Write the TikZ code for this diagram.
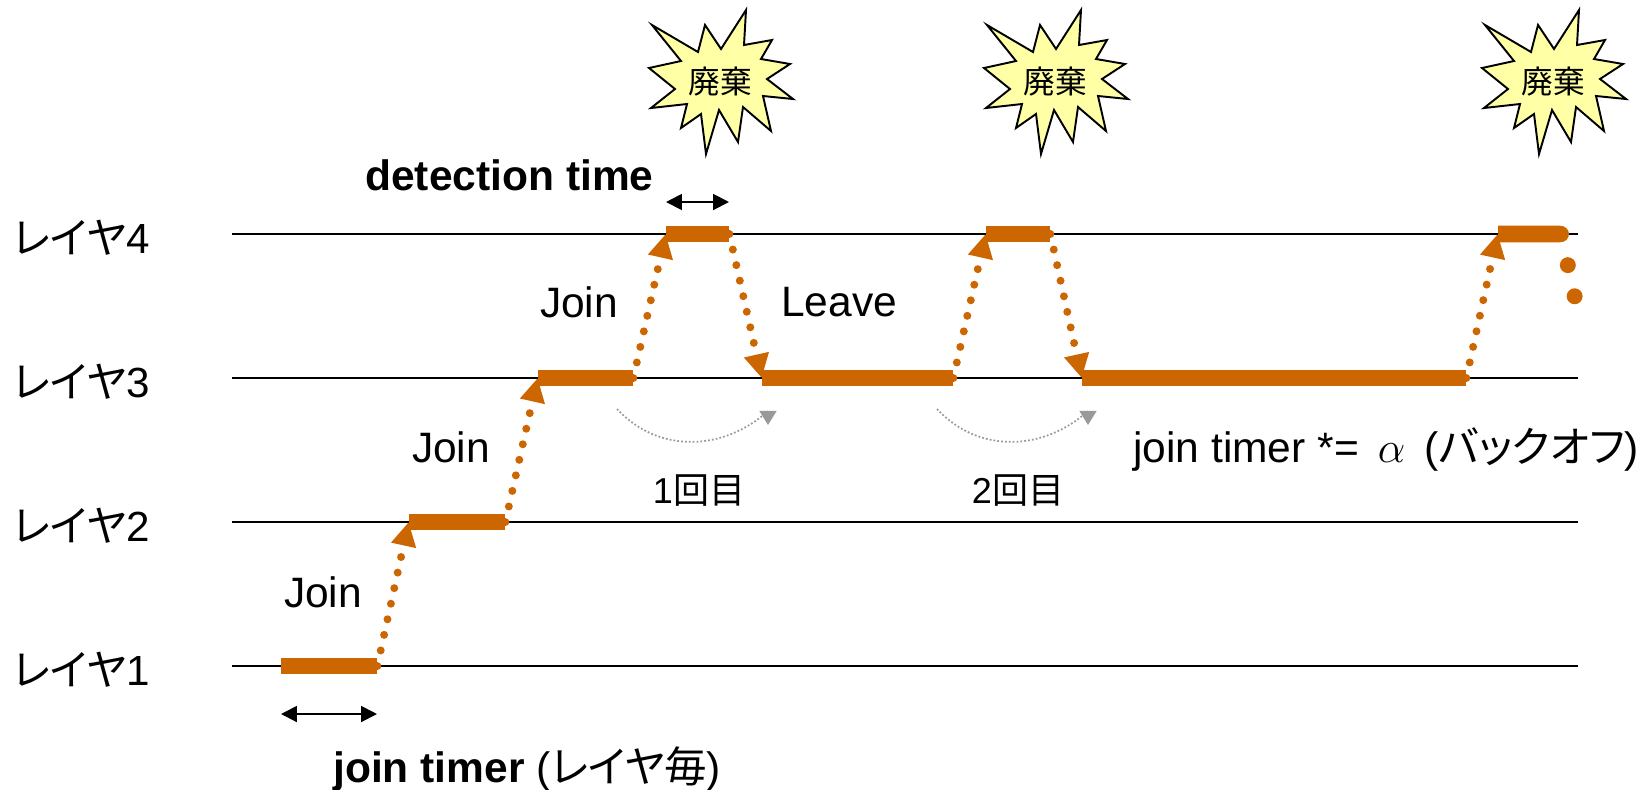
\documentclass[tikz,border=0pt]{standalone}
\usepackage{fontspec}
\setmainfont{Liberation Sans}
\newfontfamily\cjk[RawFeature=+palt]{Noto Sans CJK JP}
\usetikzlibrary{arrows.meta,shapes.misc}
\definecolor{barorange}{HTML}{CC6600}
\definecolor{burstyellow}{HTML}{FFFFA6}
\definecolor{backgray}{HTML}{999999}

\begin{document}
\begin{tikzpicture}[x=0.02cm, y=-0.02cm,
    layerline/.style={line width=1.1pt},
    barbox/.style={fill=barorange, inner sep=0pt, minimum height=9.5pt},
    joinline/.style={barorange, line width=4.54pt, line cap=round, dash pattern=on 0pt off 9.07pt, -{Triangle[length=13.6pt,width=13.6pt]}},
    spanline/.style={line width=1.1pt, {Triangle[length=9pt,width=9pt]}-{Triangle[length=9pt,width=9pt]}},
    backline/.style={backgray, line width=1pt, dash pattern=on 1pt off 1.2pt, -{Triangle[length=8pt,width=9.6pt]}},
    burst/.style={draw, line width=1.1pt, line join=miter, fill=burstyellow},
    layertext/.style={anchor=west, inner sep=0pt, font=\fontsize{24}{28}\selectfont},
    bigtext/.style={inner sep=0pt, font=\fontsize{24.2}{28}\selectfont},
    smalltext/.style={inner sep=0pt, font=\fontsize{20.5}{24}\selectfont}]
    \useasboundingbox (0,0) rectangle (1652,789);

    % Layers
    \foreach \n/\yy in {1/666, 2/522, 3/378, 4/234} {
        \coordinate (from\n) at (232,\yy);
        \coordinate (to\n) at (1578,\yy);
        \draw[layerline] (from\n) -- (to\n);
        \node[layertext] (name\n) at (13,\yy+4) {{\cjk レイヤ}\n};
    }

    % Bars
    \node[barbox, minimum width=1.92cm] (lay1) at (329,666) {};
    \node[barbox, minimum width=1.92cm] (lay2) at (457,522) {};
    \node[barbox, minimum width=1.90cm] (lay3a) at (585.5,378) {};
    \node[barbox, minimum width=1.26cm] (lay4a) at (697.5,234) {};
    \node[barbox, minimum width=3.82cm] (lay3b) at (857.5,378) {};
    \node[barbox, minimum width=1.28cm] (lay4b) at (1018,234) {};
    \node[barbox, minimum width=7.68cm] (lay3c) at (1274,378) {};
    \node[barbox, rounded rectangle, rounded rectangle west arc=none, minimum width=1.40cm] (lay4c) at (1533,234) {};

    % Arrows
    \draw[joinline] (lay1.east) -- (lay2.west);
    \draw[joinline] (lay2.east) -- (lay3a.west);
    \draw[joinline] (lay3a.east) -- (lay4a.west);
    \draw[joinline] (lay4a.east) -- (lay3b.west);
    \draw[joinline] (lay3b.east) -- (lay4b.west);
    \draw[joinline] (lay4b.east) -- (lay3c.west);
    \draw[joinline] (lay3c.east) -- (lay4c.west);
    \coordinate (fallfrom) at (1561,234);
    \coordinate (fallto) at (1575,298);
    \draw[barorange, line width=9.07pt, line cap=round, dash pattern=on 0pt off 18.14pt] (fallfrom) -- (fallto);

    % Timer spans
    \coordinate (joinl) at (281,714);
    \coordinate (joinr) at (377,714);
    \draw[spanline] (joinl) -- (joinr);
    \coordinate (detl) at (666,202);
    \coordinate (detr) at (729,202);
    \draw[spanline] (detl) -- (detr);

    % Backoff curves
    \foreach \n/\dx in {1/0, 2/320} {
        \coordinate (backa\n) at (617+\dx,409);
        \coordinate (backb\n) at (768+\dx,411);
        \coordinate (backc\n) at (768+\dx,425);
        \draw[backline] (backa\n) .. controls (660+\dx,455) and (725+\dx,450) .. (backb\n) -- (backc\n);
    }

    % Bursts
    \foreach \n/\xx in {1/720, 2/1055, 3/1553} {
        \draw[burst, shift={(\xx,82)}] (-68,-57) -- (-22,-30) -- (-15,-57) -- (1,-33) -- (26,-72) -- (24,-37)
            -- (52,-42) -- (41,-23) -- (70,-18) -- (47,-3) -- (73,17) -- (43,14) -- (51,49) -- (23,25)
            -- (18,60) -- (-1,28) -- (-14,72) -- (-19,32) -- (-39,46) -- (-33,22) -- (-69,26) -- (-45,7)
            -- (-71,-14) -- (-39,-21) -- cycle;
        \node[inner sep=0pt, font=\fontsize{18}{22}\selectfont\cjk] (drop\n) at (\xx,82) {廃棄};
    }

    % Labels
    \node[bigtext] (join1) at (323,592) {Join};
    \node[bigtext] (join2) at (451,447) {Join};
    \node[bigtext] (join3) at (579,302) {Join};
    \node[bigtext] (leave) at (839,302) {Leave};
    \node[bigtext, anchor=base west] (dettime) at (365,190) {\textbf{detection time}};
    \node[bigtext, anchor=base west] (jointime) at (333,782) {\textbf{join timer} ({\cjk レイヤ毎})};
    \node[bigtext, anchor=base west] (backoff) at (1133,462) {join timer *= \,$\alpha$\, ({\cjk バックオフ})};
    \node[smalltext] (first) at (699,491) {1{\cjk 回目}};
    \node[smalltext] (second) at (1018,491) {2{\cjk 回目}};
\end{tikzpicture}
\end{document}
